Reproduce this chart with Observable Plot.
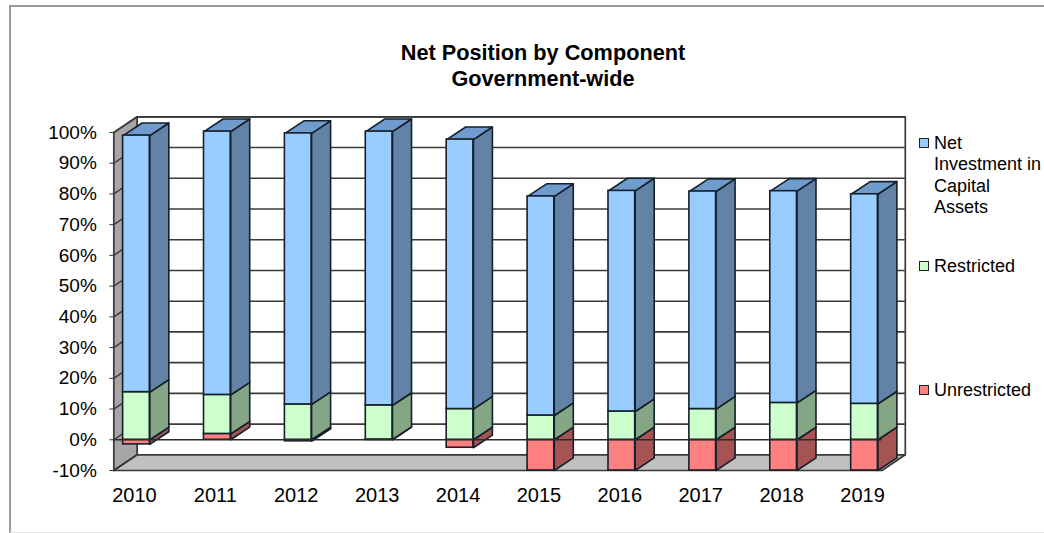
<!DOCTYPE html>
<html>
<head>
<meta charset="utf-8">
<script src="https://cdn.jsdelivr.net/npm/d3@7"></script>
<script src="https://cdn.jsdelivr.net/npm/@observablehq/plot@0.6"></script>
<style>
  html, body { margin: 0; background: #fff; }
  #chart { position: relative; width: 1044px; height: 533px; overflow: hidden;
           font-family: "Liberation Sans", Arial, sans-serif; color: #000; }
  #frame { position: absolute; left: 9px; top: 5px; right: -4px; bottom: 0;
           border: solid #9a9a9a; border-width: 2px 0 0 2px; border-bottom: 1px solid #e4e4e4; }
  #title { position: absolute; left: 0; width: 1086px; top: 40px; text-align: center;
           font-weight: bold; font-size: 21.7px; line-height: 26px; }
  .legend { position: absolute; left: 919px; font-size: 18px; line-height: 21.3px; width: 125px; }
  .legend i { position: absolute; left: 0; top: 5px; width: 7.5px; height: 7.5px; border: 1.5px solid #222; }
  .legend span { display: block; margin-left: 15px; }
  svg { position: absolute; left: 0; top: 0; }
</style>
</head>
<body>
<div id="chart">
  <div id="frame"></div>
  <div id="title">Net Position by Component<br>Government-wide</div>
</div>
<script>
// Share of net position per fiscal year, in percent of the total.
const years = [2010, 2011, 2012, 2013, 2014, 2015, 2016, 2017, 2018, 2019];
const unrestricted = [-1.5, 1.9, -0.5, 0.1, -2.6, -10, -10, -10, -10, -10];
const restricted = [15.5, 12.7, 11.5, 11.1, 10, 7.9, 9.2, 10, 12, 11.7];
const netInvestment = [83.5, 85.7, 88.2, 89.1, 87.7, 71.3, 71.8, 70.8, 68.9, 68.2];

const yTicks = d3.range(-10, 101, 10);

// Extrusion of the pseudo-3D box and of the bars, expressed in scale units.
const depthX = 0.288;
const depthY = 5.1;
const barDepthX = 0.235;
const barDepthY = 4.1;
const barHalf = 0.165;
const xFront = [2009.72, 2019.216];
const yFront = [-10, 100];

const line = "#14202c";
const grid = "#3a3a3a";
const series = [
  {name: "Unrestricted", front: "#FF8080", side: "#A65353", top: "#D06868"},
  {name: "Restricted", front: "#CCFFCC", side: "#85A685", top: "#A6CFA6"},
  {name: "Net Investment in Capital Assets", front: "#99CCFF", side: "#6383A6", top: "#6F9CCC"}
];

// Stack the three components for every year; negatives hang below zero.
const segments = years.map((year, i) => {
  const u = unrestricted[i];
  const base = Math.max(u, 0);
  const restTop = base + restricted[i];
  return [
    {year, y1: Math.min(u, 0), y2: base},
    {year, y1: base, y2: restTop},
    {year, y1: restTop, y2: restTop + netInvestment[i]}
  ];
});

// Closed outline helpers for the faces that recede into the box.
const sidePoly = (s, k) => {
  const x = s.year + barHalf;
  return [[x, s.y1], [x + barDepthX, s.y1 + barDepthY], [x + barDepthX, s.y2 + barDepthY], [x, s.y2]]
    .map(([px, py]) => ({id: `${k}-${s.year}`, px, py}));
};
const topPoly = (s, k) => {
  const l = s.year - barHalf, r = s.year + barHalf;
  return [[l, s.y2], [l + barDepthX, s.y2 + barDepthY], [r + barDepthX, s.y2 + barDepthY], [r, s.y2]]
    .map(([px, py]) => ({id: `${k}-${s.year}`, px, py}));
};
const poly = (points, fill, stroke = line, strokeWidth = 1.6) =>
  Plot.line(points, {x: "px", y: "py", z: "id", fill, stroke, strokeWidth, curve: "linear-closed", strokeLinejoin: "round"});
const wall = (id, corners) => corners.map(([px, py]) => ({id, px, py}));

const barMarks = series.flatMap((s, k) => {
  const rows = segments.map((seg) => seg[k]);
  return [
    poly(rows.flatMap((r) => sidePoly(r, k)), s.side),
    poly(rows.flatMap((r) => topPoly(r, k)), s.top),
    Plot.rect(rows, {x1: (r) => r.year - barHalf, x2: (r) => r.year + barHalf, y1: "y1", y2: "y2",
                     fill: s.front, stroke: line, strokeWidth: 1.6})
  ];
});

const [x0, x1] = xFront, [y0, y1] = yFront;

const plot = Plot.plot({
  width: 1044,
  height: 533,
  marginLeft: 113.3,
  marginRight: 162.5,
  marginTop: 132,
  marginBottom: 63,
  style: {fontFamily: '"Liberation Sans", Arial, sans-serif', background: "transparent", color: "#000"},
  x: {domain: xFront, label: null},
  y: {domain: yFront, label: null},
  marks: [
    // Back wall, floor and left wall of the box.
    poly(wall("back", [[x0 + depthX, y0 + depthY], [x1 + depthX, y0 + depthY], [x1 + depthX, y1 + depthY], [x0 + depthX, y1 + depthY]]), "#fff", grid, 1.7),
    Plot.ruleY(yTicks.slice(1), {y: (d) => d + depthY, x1: x0 + depthX, x2: x1 + depthX, stroke: grid, strokeWidth: 1.6}),
    poly(wall("left", [[x0, y0], [x0 + depthX, y0 + depthY], [x0 + depthX, y1 + depthY], [x0, y1]]), "#A6A6A6", grid, 1.7),
    poly(wall("floor", [[x0, y0], [x1, y0], [x1 + depthX, y0 + depthY], [x0 + depthX, y0 + depthY]]), "#C0C0C0", grid, 1.7),
    Plot.line(yTicks.flatMap((t) => [{t, px: x0, py: t}, {t, px: x0 + depthX, py: t + depthY}]),
      {x: "px", y: "py", z: "t", stroke: grid, strokeWidth: 1.4}),
    ...barMarks,
    // Zero baseline runs across the front of the box.
    Plot.ruleY([0], {x1: x0, x2: x1, stroke: "#2a2a2a", strokeWidth: 1.5}),
    Plot.axisY({ticks: yTicks, tickFormat: (d) => `${d}%`, tickSize: 4, tickPadding: 13, fontSize: 19, stroke: grid}),
    Plot.axisX({ticks: years, tickFormat: "d", tickSize: 0, tickPadding: 17, fontSize: 20, dx: -2})
  ]
});
document.getElementById("chart").appendChild(plot);

// Legend entries sit to the right of the box, keyed to the front-face colours.
const legendRows = [
  {s: series[2], lines: ["Net", "Investment in", "Capital", "Assets"], top: 133},
  {s: series[1], lines: ["Restricted"], top: 256},
  {s: series[0], lines: ["Unrestricted"], top: 380}
];
for (const row of legendRows) {
  const div = document.createElement("div");
  div.className = "legend";
  div.style.top = `${row.top}px`;
  div.innerHTML = `<i style="background:${row.s.front}"></i><span>${row.lines.join("<br>")}</span>`;
  document.getElementById("chart").appendChild(div);
}
</script>
</body>
</html>
